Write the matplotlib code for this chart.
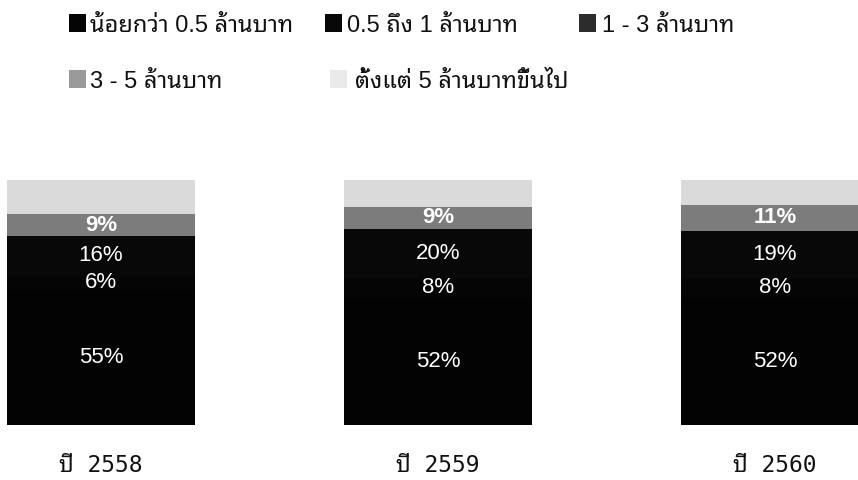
import matplotlib
matplotlib.use("Agg")
import matplotlib.pyplot as plt
from matplotlib.patches import Rectangle
import numpy as np

# Share of entities by size bracket (percent), per year
years = ["ปี 2558", "ปี 2559", "ปี 2560"]
series_names = [
    "น้อยกว่า 0.5 ล้านบาท",
    "0.5 ถึง 1 ล้านบาท",
    "1 - 3 ล้านบาท",
    "3 - 5 ล้านบาท",
    "ตั้งแต่ 5 ล้านบาทขึ้นไป",
]
under_05 = [55, 52, 52]
from_05_to_1 = [6, 8, 8]
from_1_to_3 = [16, 20, 19]
from_3_to_5 = [9, 9, 11]
over_5 = [14, 11, 10]
show_label = [True, True, True, True, False]

series = [under_05, from_05_to_1, from_1_to_3, from_3_to_5, over_5]
colors = ["#030303", "#050505", "#080808", "#7c7c7c", "#dadada"]
legend_colors = ["#050505", "#080808", "#2c2c2c", "#9a9a9a", "#eaeaea"]
bold_label = [False, False, False, True, False]

TEXT_FONT = ["Liberation Sans", "Noto Sans Thai Looped"]
TICK_FONT = ["DejaVu Sans Mono", "Noto Sans Thai Looped"]

W, H = 858, 480
fig = plt.figure(figsize=(W / 100, H / 100), dpi=100)
fig.patch.set_facecolor("white")

# plot area: bars run from y=425 px (0%) to y=180 px (100%)
ax = fig.add_axes([0, (H - 425) / H, 1, 245 / H])
x = np.arange(len(years))
ax.set_xlim(-101 / 337, 757 / 337)
ax.set_ylim(0, 100)

bottom = np.zeros(len(years))
for vals, col, lab, bold in zip(series, colors, show_label, bold_label):
    vals = np.array(vals, dtype=float)
    ax.bar(x, vals, width=188 / 337, bottom=bottom, color=col,
           edgecolor="none", linewidth=0)
    if lab:
        for xi, b, v in zip(x, bottom, vals):
            ax.text(xi, b + v / 2, f"{int(v)}%", ha="center", va="center",
                    color="white", fontsize=16, family=TEXT_FONT,
                    fontweight="bold" if bold else "normal")
    bottom += vals

for s in ax.spines.values():
    s.set_visible(False)
ax.set_yticks([])
ax.set_xticks(x)
ax.set_xticklabels(years, family=TICK_FONT, fontsize=16.5, color="#111111")
ax.tick_params(axis="x", length=0, pad=21)

# legend laid out in two rows above the bars (pixel positions)
legend_rows = [(0, 0), (0, 1), (0, 2), (1, 0), (1, 1)]
row_base = [32, 88]
box_x = [[69, 325, 579], [69, 330]]
text_x = [[90, 347, 602], [90, 355]]
box = 17
for i, (name, col) in enumerate(zip(series_names, legend_colors)):
    r, c = legend_rows[i]
    yb = row_base[r]
    fig.patches.append(Rectangle((box_x[r][c] / W, 1 - yb / H), box / W, (box + 1) / H,
                                 transform=fig.transFigure, facecolor=col,
                                 edgecolor="none"))
    fig.text(text_x[r][c] / W, 1 - yb / H, name, ha="left", va="baseline",
             fontsize=17, family=TEXT_FONT, color="#111111")

fig.savefig("out.png", dpi=100, facecolor="white")
